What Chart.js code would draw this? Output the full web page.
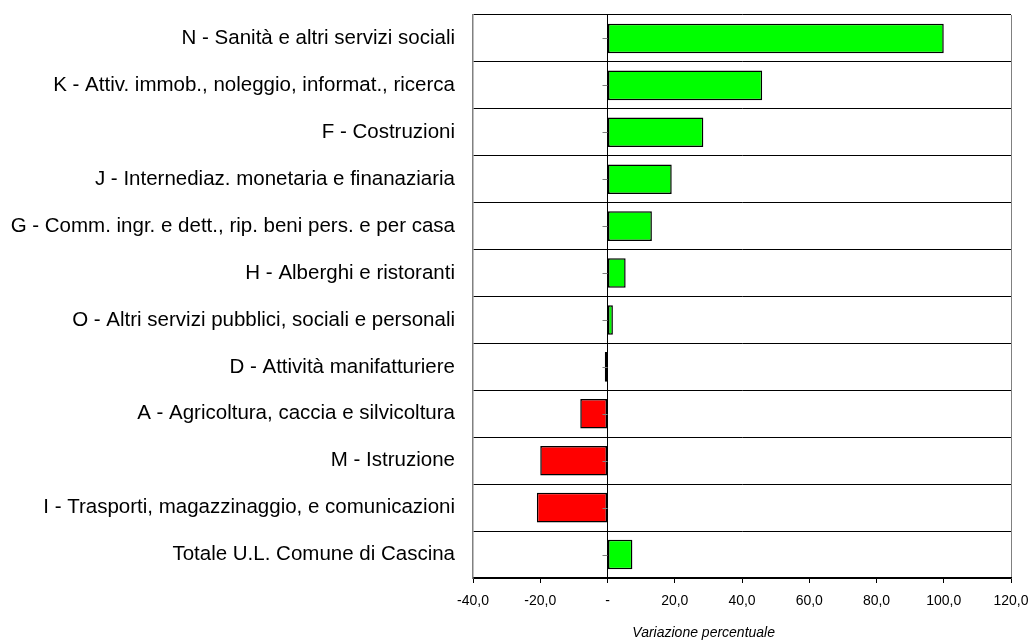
<!DOCTYPE html>
<html>
<head>
<meta charset="utf-8">
<script src="https://cdn.jsdelivr.net/npm/chart.js@4/dist/chart.umd.min.js"></script>
<style>
  body { margin: 0; background: #fff; }
  canvas { display: block; }
</style>
</head>
<body>
<canvas id="settoriChart" width="1032" height="640"></canvas>
<script>
// categorie (dall'alto verso il basso)
const categories = [
    'N - Sanità e altri servizi sociali',
    'K - Attiv. immob., noleggio, informat., ricerca',
    'F - Costruzioni',
    'J - Internediaz. monetaria e finanaziaria',
    'G - Comm. ingr. e dett., rip. beni pers. e per casa',
    'H - Alberghi e ristoranti',
    'O - Altri servizi pubblici, sociali e personali',
    'D - Attività manifatturiere',
    'A - Agricoltura, caccia e silvicoltura',
    'M - Istruzione',
    'I - Trasporti, magazzinaggio, e comunicazioni',
    'Totale U.L. Comune di Cascina'
];

// variazione percentuale
const variazione = [100.0, 46.0, 28.5, 19.1, 13.2, 5.4, 1.6, -0.8, -8.1, -20.0, -21.0, 7.4];

// asse x
const xMin = -40;
const xMax = 120;
const xStep = 20;
const xTitle = 'Variazione percentuale';

const VERDE = '#00FF00';
const ROSSO = '#FF0000';
// colore per barra (come nel grafico originale)
const barColors = [VERDE, VERDE, VERDE, VERDE, VERDE, VERDE, VERDE, VERDE, ROSSO, ROSSO, ROSSO, VERDE];

const FONT = 'Liberation Sans, Arial, sans-serif';

// piccoli segni sull'asse dello zero + titolo asse x
const extras = {
    id: 'extras',
    afterDatasetsDraw(chart) {
        const { ctx, scales: { x, y } } = chart;
        const x0 = x.getPixelForValue(0);
        ctx.save();
        ctx.strokeStyle = '#808080';
        ctx.lineWidth = 1;
        categories.forEach((c, i) => {
            const py = Math.round(y.getPixelForValue(i)) + 0.5;
            ctx.beginPath();
            ctx.moveTo(x0 - 5, py);
            ctx.lineTo(x0, py);
            ctx.stroke();
        });
        ctx.fillStyle = '#000';
        ctx.font = 'italic 14px ' + FONT;
        ctx.textAlign = 'center';
        ctx.textBaseline = 'alphabetic';
        ctx.fillText(xTitle, x.getPixelForValue(28.6), 637);
        ctx.restore();
    }
};

const ctx = document.getElementById('settoriChart').getContext('2d');

new Chart(ctx, {
    type: 'bar',
    data: {
        labels: categories,
        datasets: [{
            data: variazione,
            backgroundColor: barColors,
            borderColor: '#000',
            borderWidth: 1.5,
            borderSkipped: false,
            categoryPercentage: 1,
            barPercentage: 0.63
        }]
    },
    options: {
        indexAxis: 'y',
        responsive: false,
        animation: false,
        layout: { padding: { top: 15, right: 21, left: 0, bottom: 0 } },
        plugins: {
            legend: { display: false },
            tooltip: { enabled: false }
        },
        scales: {
            x: {
                min: xMin,
                max: xMax,
                afterFit: (scale) => {
                    scale.height = 62;
                    scale.paddingLeft = 0;
                    scale.paddingRight = 0;
                },
                ticks: {
                    stepSize: xStep,
                    color: '#000',
                    padding: 10,
                    font: { family: FONT, size: 14 },
                    callback: (v) => v === 0 ? '-' : v.toFixed(1).replace('.', ',')
                },
                grid: {
                    color: (c) => {
                        if (c.tick && c.tick.value === 0) return '#000';
                        if (c.tick && c.tick.value === xMax) return '#808080';
                        return 'transparent';
                    },
                    tickColor: '#000',
                    tickLength: 5,
                    lineWidth: 1
                },
                border: { display: true, color: '#000', width: 1.5 }
            },
            y: {
                afterFit: (scale) => {
                    scale.width = 473;
                    scale.paddingTop = 0;
                    scale.paddingBottom = 0;
                },
                ticks: {
                    color: '#000',
                    padding: 18,
                    font: { family: FONT, size: 20.5 }
                },
                grid: {
                    color: '#000',
                    lineWidth: 1,
                    drawTicks: false
                },
                border: { display: true, color: '#808080', width: 1.5 }
            }
        }
    },
    plugins: [extras]
});
</script>
</body>
</html>
